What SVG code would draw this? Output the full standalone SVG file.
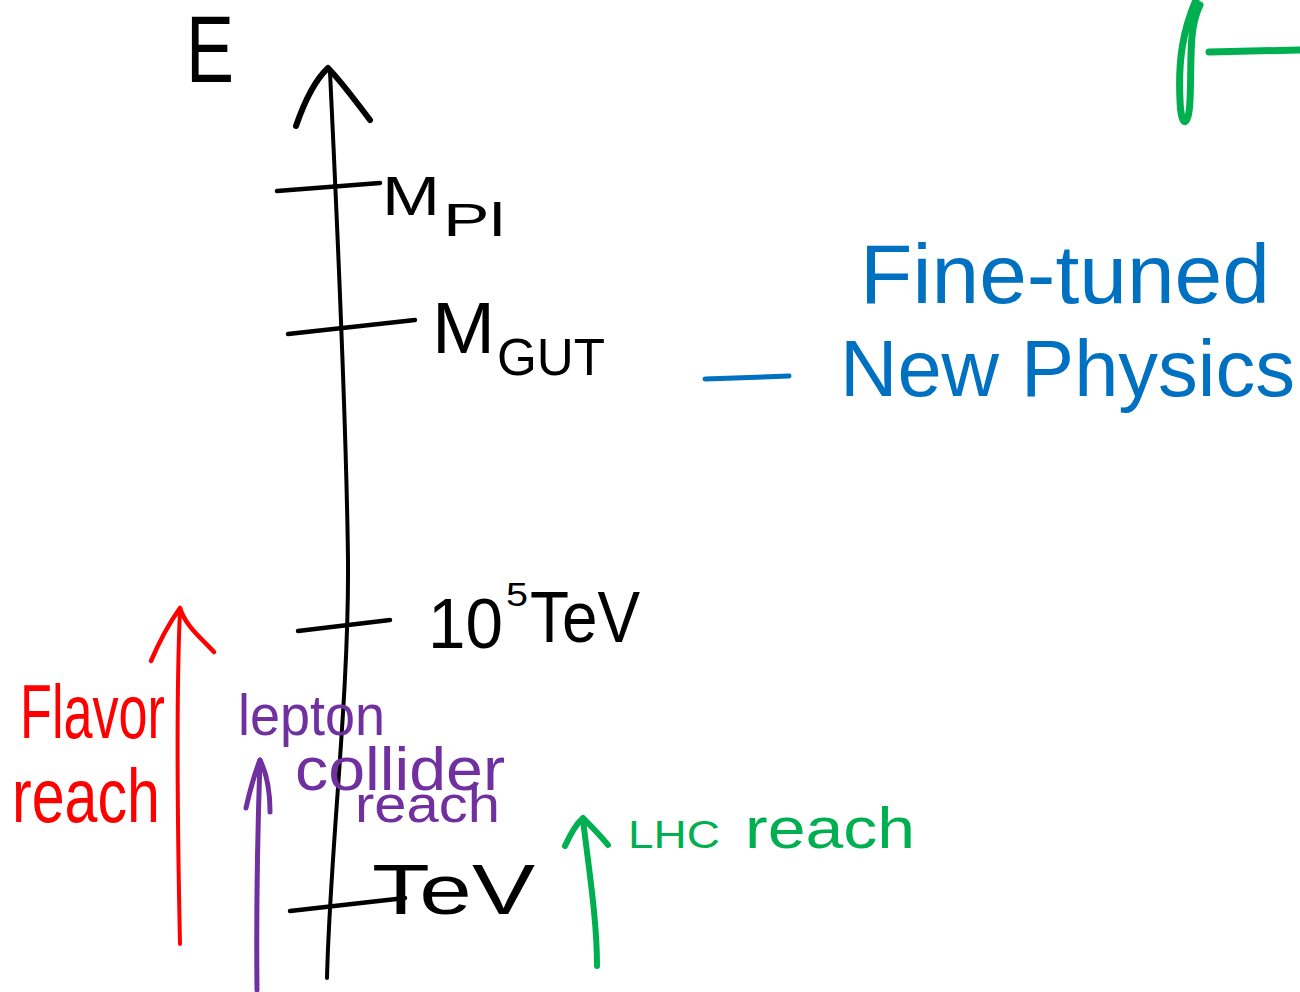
<svg xmlns="http://www.w3.org/2000/svg" width="1300" height="992" viewBox="0 0 1300 992">
<style>
.ink{fill:none;stroke-linecap:round;stroke-linejoin:round}
.k{stroke:#000}
.r{stroke:#ff0000}
.p{stroke:#7030a0}
.g{stroke:#00b050}
.b{stroke:#0070c0}
text{font-family:"Liberation Sans",Arial,sans-serif}
.tk{fill:#000}
.tr{fill:#ff0000}
.tp{fill:#7030a0}
.tg{fill:#00b050}
.tb{fill:#0070c0}
</style>
<rect width="1300" height="992" fill="#fff"/>
<g id="connectors">
  <path class="ink k" stroke-width="4" d="M330,72 C336,200 346,400 348,560 C349,700 330,850 327,978"/>
  <path class="ink k" stroke-width="6" d="M296,126 C305,100 315,80 328,68 C340,80 355,100 370,120"/>
  <path class="ink k" stroke-width="4.5" d="M277,191 L380,183"/>
  <path class="ink k" stroke-width="4.5" d="M288,334 L415,320"/>
  <path class="ink k" stroke-width="4.5" d="M298,631 L390,620"/>
  <path class="ink k" stroke-width="4.5" d="M290,911 L405,898"/>
  <path class="ink r" stroke-width="4" d="M180,944 C178,850 176,700 180,610"/>
  <path class="ink r" stroke-width="4.5" d="M151,661 C160,640 170,622 180,608 C185,625 200,637 214,652"/>
  <path class="ink p" stroke-width="5" d="M257,990 C256,900 258,820 260,760"/>
  <path class="ink p" stroke-width="5" d="M246,808 C250,790 254,775 260,760 C266,772 270,790 270,812"/>
  <path class="ink g" stroke-width="6" d="M597,966 C597,920 589,870 583,820"/>
  <path class="ink g" stroke-width="6" d="M565,846 C570,835 575,825 583,818 C590,825 600,835 608,845"/>
  <path class="ink b" stroke-width="5" d="M705,379 L789,376"/>
  <path class="ink g" stroke-width="7" d="M1196,0 C1183,30 1178,60 1180,100 C1181,130 1189,128 1190,100 C1192,60 1188,30 1200,5"/>
  <path class="ink g" stroke-width="7" d="M1209,52 L1300,50"/>
</g>
<g id="axis-label"><text class="tk" x="186" y="82" font-size="94" textLength="48" lengthAdjust="spacingAndGlyphs">E</text></g>
<g id="mpl">
  <text class="tk" x="382" y="215" font-size="56" textLength="58" lengthAdjust="spacingAndGlyphs">M</text>
  <text class="tk" x="443" y="236" font-size="46" textLength="62" lengthAdjust="spacingAndGlyphs">Pl</text>
</g>
<g id="mgut">
  <text class="tk" x="432" y="353" font-size="72" textLength="63" lengthAdjust="spacingAndGlyphs">M</text>
  <text class="tk" x="497" y="375" font-size="52" textLength="108" lengthAdjust="spacingAndGlyphs">GUT</text>
</g>
<g id="e5tev">
  <text class="tk" x="428" y="648" font-size="71" textLength="75" lengthAdjust="spacingAndGlyphs">10</text>
  <text class="tk" x="506" y="606" font-size="34" textLength="22" lengthAdjust="spacingAndGlyphs">5</text>
  <text class="tk" x="530" y="642" font-size="72" textLength="110" lengthAdjust="spacingAndGlyphs">TeV</text>
</g>
<g id="tev"><text class="tk" x="372" y="914" font-size="70" textLength="163" lengthAdjust="spacingAndGlyphs">TeV</text></g>
<g id="fine-tuned">
  <text class="tb" x="860" y="303" font-size="84" textLength="410" lengthAdjust="spacingAndGlyphs">Fine-tuned</text>
  <text class="tb" x="840" y="396" font-size="80" textLength="455" lengthAdjust="spacingAndGlyphs">New Physics</text>
</g>
<g id="flavor">
  <text class="tr" x="20" y="738" font-size="76" textLength="145" lengthAdjust="spacingAndGlyphs">Flavor</text>
  <text class="tr" x="12" y="822" font-size="76" textLength="148" lengthAdjust="spacingAndGlyphs">reach</text>
</g>
<g id="lepton">
  <text class="tp" x="238" y="735" font-size="58" textLength="147" lengthAdjust="spacingAndGlyphs">lepton</text>
  <text class="tp" x="295" y="790" font-size="62" textLength="210" lengthAdjust="spacingAndGlyphs">collider</text>
  <text class="tp" x="355" y="822" font-size="52" textLength="145" lengthAdjust="spacingAndGlyphs">reach</text>
</g>
<g id="lhc">
  <text class="tg" x="628" y="848" font-size="38" textLength="92" lengthAdjust="spacingAndGlyphs">LHC</text>
  <text class="tg" x="745" y="848" font-size="58" textLength="170" lengthAdjust="spacingAndGlyphs">reach</text>
</g>
</svg>
